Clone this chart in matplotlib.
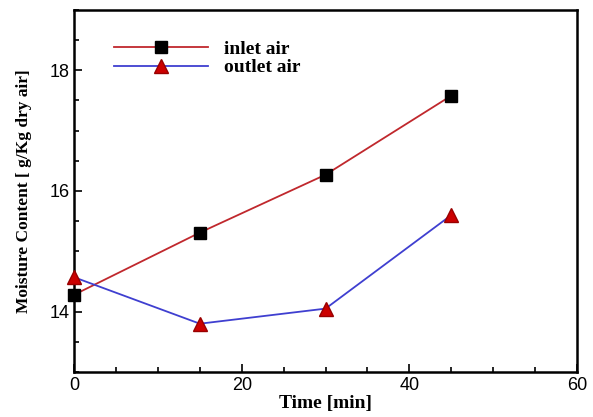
import matplotlib.pyplot as plt
from matplotlib.ticker import MultipleLocator

time_min = [0, 15, 30, 45]
inlet_air = [14.28, 15.31, 16.27, 17.58]
outlet_air = [14.57, 13.80, 14.05, 15.60]

fig = plt.figure(figsize=(5.93, 4.17), dpi=100)
ax = fig.add_axes([0.125, 0.108, 0.848, 0.868])

ax.plot(time_min, inlet_air, color='#c0282d', lw=1.3, marker='s', ms=9,
        mfc='black', mec='black', label='inlet air', clip_on=False, zorder=3)
ax.plot(time_min, outlet_air, color='#3f3fd0', lw=1.3, marker='^', ms=10,
        mfc='#cc0000', mec='#990000', label='outlet air', clip_on=False, zorder=3)

ax.set_xlim(0, 60)
ax.set_ylim(13, 19)
ax.xaxis.set_major_locator(MultipleLocator(20))
ax.xaxis.set_minor_locator(MultipleLocator(5))
ax.yaxis.set_major_locator(MultipleLocator(2))
ax.yaxis.set_minor_locator(MultipleLocator(0.5))
ax.tick_params(which='both', direction='in', top=False, right=False, width=1.2)
ax.tick_params(which='major', length=6, labelsize=13)
ax.tick_params(which='minor', length=3.5)
for lab in ax.get_xticklabels() + ax.get_yticklabels():
    lab.set_family('Liberation Sans')
for sp in ax.spines.values():
    sp.set_linewidth(1.8)

ax.set_xlabel('Time [min]', family='Liberation Serif', fontweight='bold', fontsize=14, labelpad=1)
ax.set_ylabel('Moisture Content [ g/Kg dry air]', family='Liberation Serif',
              fontweight='bold', fontsize=12.5, labelpad=12)

ax.legend(loc='upper left', bbox_to_anchor=(0.045, 0.965), frameon=False,
          handlelength=4.8, handletextpad=0.85, labelspacing=0.05,
          prop={'family': 'Liberation Serif', 'weight': 'bold', 'size': 14})

fig.savefig('out.png', dpi=100)
